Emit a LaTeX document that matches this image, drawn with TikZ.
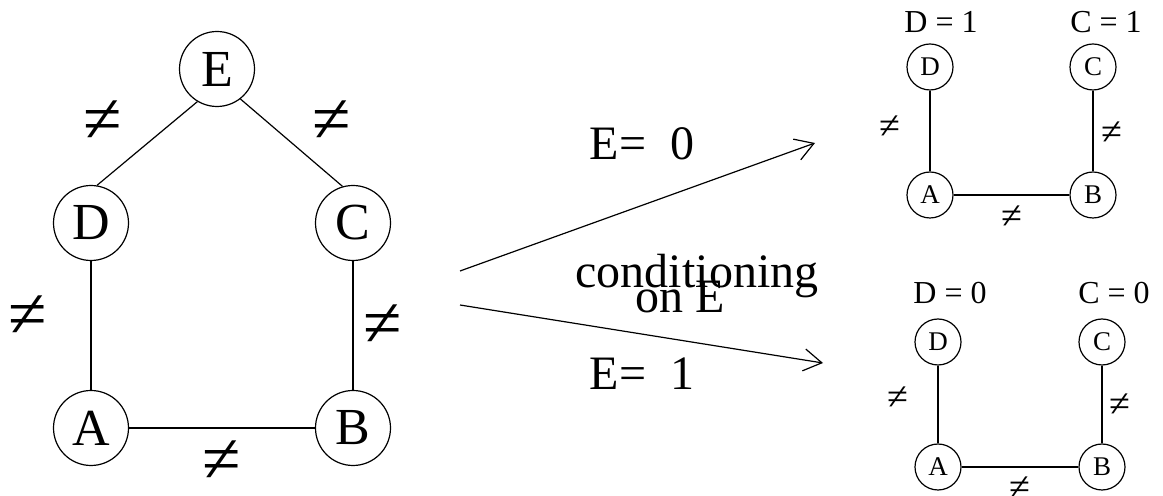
\documentclass[tikz,border=0pt]{standalone}
\usepackage{fontspec}
\setmainfont{Liberation Serif}
\usetikzlibrary{arrows.meta}

\begin{document}
\begin{tikzpicture}[
    x=0.5pt, y=-0.5pt,
    bigv/.style={draw,circle,line width=0.6pt,minimum size=37.5pt,inner sep=0pt,
                 font=\fontsize{26}{28}\selectfont},
    smallv/.style={draw,circle,line width=0.6pt,minimum size=23pt,inner sep=0pt,
                   font=\fontsize{13.5}{15}\selectfont},
    link/.style={line width=0.6pt},
    neqbig/.style={font=\fontsize{35}{37}\selectfont,inner sep=0pt},
    neqsmall/.style={font=\fontsize{19}{21}\selectfont,inner sep=0pt},
    cond/.style={font=\fontsize{24}{26}\selectfont,anchor=base,inner sep=0pt},
    val/.style={font=\fontsize{16}{18}\selectfont,anchor=base,inner sep=0pt},
    arr/.style={-{Straight Barb[length=9pt,width=11pt]},line width=0.6pt}
]
  \useasboundingbox (0,0) rectangle (1163,496);

  % Full graph
  \node[bigv] (E) at (217,69) {E};
  \node[bigv] (D) at (91,223) {D};
  \node[bigv] (C) at (353,223) {C};
  \node[bigv] (A) at (91,428) {A};
  \node[bigv] (B) at (353,428) {B};
  \draw[link] (E.239) -- (D.81);
  \draw[link] (E.308) -- (C.106);
  \draw[link] (D) -- (A);
  \draw[link] (C) -- (B);
  \draw[link] (A) -- (B);
  \node[neqbig] (nED) at (103,122) {≠};
  \node[neqbig] (nEC) at (332,122) {≠};
  \node[neqbig] (nDA) at (28,317) {≠};
  \node[neqbig] (nCB) at (383,326) {≠};
  \node[neqbig] (nAB) at (222,462) {≠};

  % Conditioning arrows
  \coordinate (up0) at (460,271);
  \coordinate (up1) at (815,143);
  \coordinate (dn0) at (460,305);
  \coordinate (dn1) at (823,363);
  \draw[arr] (up0) -- (up1);
  \draw[arr] (dn0) -- (dn1);
  \node[cond] (e0) at (642,160) {E= \ 0};
  \node[cond] (e1) at (642,390) {E= \ 1};
  \node[cond] (cnd) at (697,288) {conditioning};
  \node[cond] (onE) at (680,313) {on E};

  % E = 0
  \node[smallv] (D0) at (930,67) {D};
  \node[smallv] (C0) at (1093,67) {C};
  \node[smallv] (A0) at (930,195) {A};
  \node[smallv] (B0) at (1093,195) {B};
  \draw[link] (D0) -- (A0);
  \draw[link] (C0) -- (B0);
  \draw[link] (A0) -- (B0);
  \node[val] (vD0) at (941,33) {D = 1};
  \node[val] (vC0) at (1106,33) {C = 1};
  \node[neqsmall] (nDA0) at (890,127) {≠};
  \node[neqsmall] (nCB0) at (1112,133) {≠};
  \node[neqsmall] (nAB0) at (1012,217) {≠};

  % E = 1
  \node[smallv] (D1) at (938,342) {D};
  \node[smallv] (C1) at (1102,342) {C};
  \node[smallv] (A1) at (938,467) {A};
  \node[smallv] (B1) at (1102,467) {B};
  \draw[link] (D1) -- (A1);
  \draw[link] (C1) -- (B1);
  \draw[link] (A1) -- (B1);
  \node[val] (vD1) at (950,304) {D = 0};
  \node[val] (vC1) at (1114,304) {C = 0};
  \node[neqsmall] (nDA1) at (898,398) {≠};
  \node[neqsmall] (nCB1) at (1120,405) {≠};
  \node[neqsmall] (nAB1) at (1020,488) {≠};
\end{tikzpicture}
\end{document}
